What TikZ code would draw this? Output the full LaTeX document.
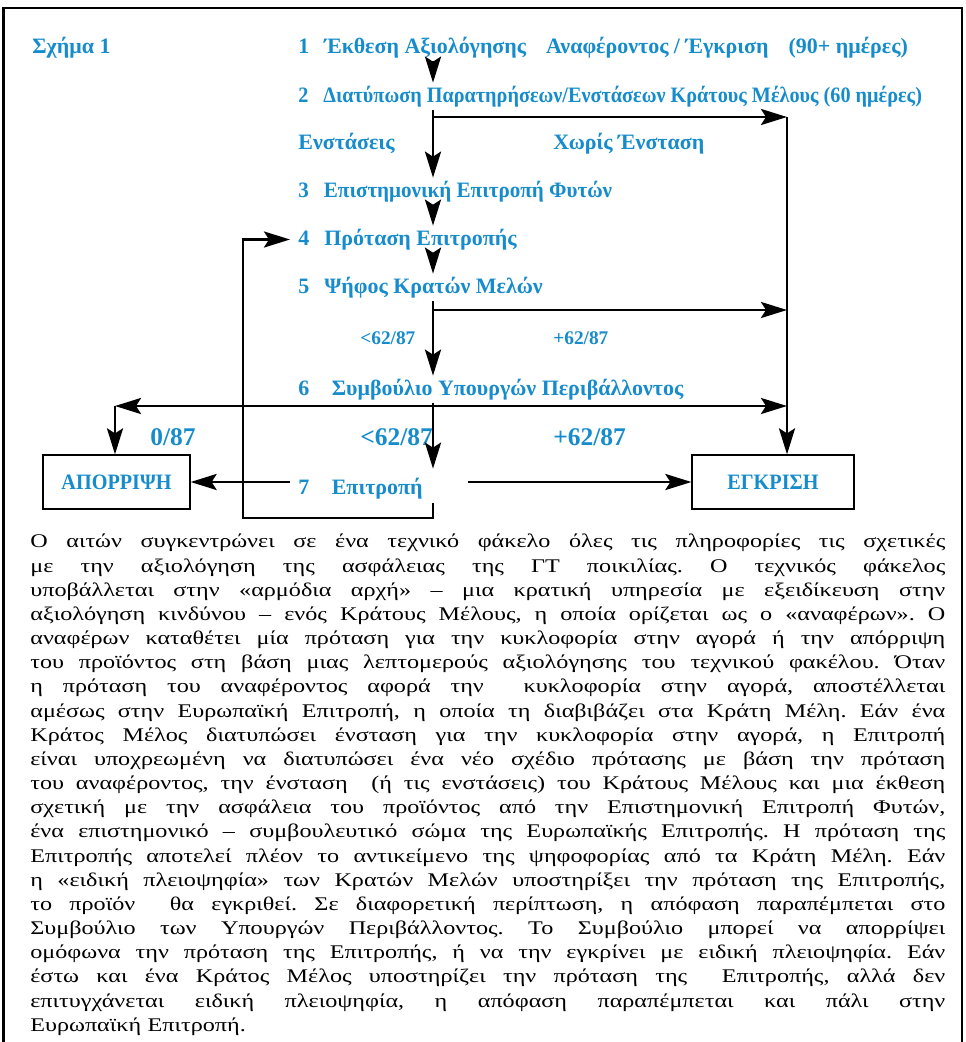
\documentclass[tikz,border=0pt]{standalone}
\usepackage{fontspec}
\setmainfont{Liberation Serif}
\newfontfamily\bodyfont{Liberation Serif}[FakeStretch=1.25]
\newfontfamily\narrowfont{Liberation Serif}[FakeStretch=0.92]
\newfontfamily\semifont{Liberation Serif}[FakeStretch=0.96]
\usepackage{tikz}
\usetikzlibrary{calc,%
                positioning,%
                arrows.meta}
\definecolor{fig-blue}{RGB}{22,140,204}
\newcommand{\jline}[1]{\hbox to 18.3cm{\spaceskip=0.28em plus 3em minus 0.05em\relax #1}}
\tikzset{
  lbl/.style={fig-blue, font=\bfseries\fontsize{12.5}{14}\selectfont, inner sep=0pt},
  lblsmall/.style={lbl, font=\bfseries\fontsize{11}{13}\selectfont},
  lblbig/.style={lbl, font=\bfseries\fontsize{14.5}{16}\selectfont},
  stage/.style={lbl, anchor=base west, inner xsep=0.16cm, inner ysep=0.08cm,
                text height=0.3cm, text depth=0.08cm},
  narrow/.style={font=\narrowfont\bfseries\fontsize{12.5}{14}\selectfont},
  semi/.style={font=\semifont\bfseries\fontsize{12.5}{14}\selectfont},
  outcome/.style={draw=black, line width=0.7pt, text=fig-blue, minimum height=1.08cm,
                  font=\narrowfont\bfseries\fontsize{12.5}{14}\selectfont},
  flow/.style={black, line width=1.6pt},
  arr/.style={flow, -{Stealth[length=5.2mm, width=3.2mm, inset=1mm]}},
}

\begin{document}
\begin{tikzpicture}
  \useasboundingbox (0,0) rectangle (19.3,-20.84);
  \draw[line width=1.5pt] (0.07,-20.84) -- (0.07,-0.16) -- (19.24,-0.16) -- (19.24,-20.84);

  % branch points
  \coordinate (b2) at (8.66,-2.34);
  \coordinate (c2) at (15.74,-2.34);
  \coordinate (b5) at (8.66,-6.20);
  \coordinate (c5) at (15.74,-6.20);
  \coordinate (b6) at (8.66,-8.12);
  \coordinate (l6) at (2.30,-8.12);
  \coordinate (r6) at (15.74,-8.12);
  \coordinate (lp) at (4.86,-10.36);

  \node[lbl, anchor=base west] (fig) at (0.64,-1.06) {Σχήμα 1};

  \node[stage] (s1) at (5.80,-1.06) {1\hspace{0.3cm}Έκθεση Αξιολόγησης\hspace{0.4cm}Αναφέροντος / Έγκριση\hspace{0.4cm}(90+ ημέρες)};
  \node[stage, narrow] (s2) at (5.80,-2.04) {2\hspace{0.3cm}Διατύπωση Παρατηρήσεων/Ενστάσεων Κράτους Μέλους (60 ημέρες)};
  \node[stage, semi] (s3) at (5.80,-3.94) {3\hspace{0.3cm}Επιστημονική Επιτροπή Φυτών};
  \node[stage] (s4) at (5.80,-4.90) {4\hspace{0.3cm}Πρόταση Επιτροπής};
  \node[stage] (s5) at (5.80,-5.86) {5\hspace{0.3cm}Ψήφος Κρατών Μελών};
  \node[stage] (s6) at (5.80,-7.90) {6\hspace{0.45cm}Συμβούλιο Υπουργών Περιβάλλοντος};
  \node[stage, text height=0.4cm, inner ysep=0.1cm, text width=3.22cm, align=left] (s7) at (5.80,-9.88) {7\hspace{0.45cm}Επιτροπή};

  \node[lbl, anchor=base west] (obj) at (5.96,-2.98) {Ενστάσεις};
  \node[lbl, anchor=base west] (noobj) at (11.06,-2.98) {Χωρίς Ένσταση};
  \node[lblsmall, anchor=base west] (v5a) at (7.20,-6.88) {<62/87};
  \node[lblsmall, anchor=base west] (v5b) at (11.06,-6.88) {+62/87};
  \node[lblbig, anchor=base west] (v6a) at (3.00,-8.90) {0/87};
  \node[lblbig, anchor=base west] (v6b) at (7.20,-8.90) {<62/87};
  \node[lblbig, anchor=base west] (v6c) at (11.06,-8.90) {+62/87};

  \node[outcome, minimum width=2.94cm] (rej) at (2.33,-9.64) {ΑΠΟΡΡΙΨΗ};
  \node[outcome, minimum width=3.24cm] (app) at (15.46,-9.64) {ΕΓΚΡΙΣΗ};

  % main spine
  \draw[arr] (s1.south -| b2) -- (s2.north -| b2);
  \draw[arr] (s2.south -| b2) -- (s3.north -| b2);
  \draw[arr] (s3.south -| b2) -- (s4.north -| b2);
  \draw[arr] (s4.south -| b2) -- (s5.north -| b2);
  \draw[arr] (s5.south -| b2) -- (s6.north -| b2);
  \draw[arr] (s6.south -| b2) -- (s7.north -| b2);

  % right hand side
  \draw[arr] (b2) -- (c2);
  \draw[arr] (b5) -- (c5);
  \draw[arr] (b6) -- (r6);
  \draw[arr] (c2) -- (app.north -| c2);

  % left hand side
  \draw[arr] (b6) -- (l6);
  \draw[arr] (l6) -- (rej.north -| l6);
  \draw[arr] (s7.west |- rej.east) -- (rej.east);
  \draw[arr] (s7.east |- app.west) -- (app.west);
  \draw[arr] (s7.south -| b6) |- (lp) |- (s4.west);

  % text
  \node[anchor=north west, inner sep=0pt, text width=18.3cm, align=left,
        font=\bodyfont\fontsize{11}{13.75}\selectfont] (body) at (0.60,-10.68) {\frenchspacing
    \jline{Ο αιτών συγκεντρώνει σε ένα τεχνικό φάκελο όλες τις πληροφορίες τις σχετικές}
    \jline{με την αξιολόγηση της ασφάλειας της ΓΤ ποικιλίας. Ο τεχνικός φάκελος}
    \jline{υποβάλλεται στην «αρμόδια αρχή» – μια κρατική υπηρεσία με εξειδίκευση στην}
    \jline{αξιολόγηση κινδύνου – ενός Κράτους Μέλους, η οποία ορίζεται ως ο «αναφέρων». Ο}
    \jline{αναφέρων καταθέτει μία πρόταση για την κυκλοφορία στην αγορά ή την απόρριψη}
    \jline{του προϊόντος στη βάση μιας λεπτομερούς αξιολόγησης του τεχνικού φακέλου. Όταν}
    \jline{η πρόταση του αναφέροντος αφορά την \ κυκλοφορία στην αγορά, αποστέλλεται}
    \jline{αμέσως στην Ευρωπαϊκή Επιτροπή, η οποία τη διαβιβάζει στα Κράτη Μέλη. Εάν ένα}
    \jline{Κράτος Μέλος διατυπώσει ένσταση για την κυκλοφορία στην αγορά, η Επιτροπή}
    \jline{είναι υποχρεωμένη να διατυπώσει ένα νέο σχέδιο πρότασης με βάση την πρόταση}
    \jline{του αναφέροντος, την ένσταση \ (ή τις ενστάσεις) του Κράτους Μέλους και μια έκθεση}
    \jline{σχετική με την ασφάλεια του προϊόντος από την Επιστημονική Επιτροπή Φυτών,}
    \jline{ένα επιστημονικό – συμβουλευτικό σώμα της Ευρωπαϊκής Επιτροπής. Η πρόταση της}
    \jline{Επιτροπής αποτελεί πλέον το αντικείμενο της ψηφοφορίας από τα Κράτη Μέλη. Εάν}
    \jline{η «ειδική πλειοψηφία» των Κρατών Μελών υποστηρίξει την πρόταση της Επιτροπής,}
    \jline{το προϊόν \ θα εγκριθεί. Σε διαφορετική περίπτωση, η απόφαση παραπέμπεται στο}
    \jline{Συμβούλιο των Υπουργών Περιβάλλοντος. Το Συμβούλιο μπορεί να απορρίψει}
    \jline{ομόφωνα την πρόταση της Επιτροπής, ή να την εγκρίνει με ειδική πλειοψηφία. Εάν}
    \jline{έστω και ένα Κράτος Μέλος υποστηρίζει την πρόταση της \ Επιτροπής, αλλά δεν}
    \jline{επιτυγχάνεται ειδική πλειοψηφία, η απόφαση παραπέμπεται και πάλι στην}
    \hbox{Ευρωπαϊκή Επιτροπή.}};
\end{tikzpicture}
\end{document}
